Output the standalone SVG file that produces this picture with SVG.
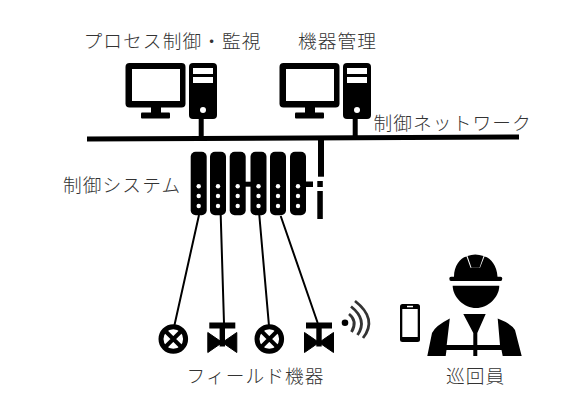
<svg xmlns="http://www.w3.org/2000/svg" width="584" height="400" viewBox="0 0 584 400">
<style>
text{font-family:"Noto Sans CJK JP","Noto Sans",sans-serif;font-size:18.7px;font-weight:300;fill:#333;letter-spacing:1.1px}
.w{fill:#fff}
.l{stroke:#000;fill:none}
</style>
<defs>
<g id="pc">
<rect x="125.5" y="63" width="60" height="44.5" rx="4"/>
<rect class="w" x="132" y="69" width="48" height="32"/>
<rect x="151" y="106" width="10" height="8"/>
<rect x="141" y="112.500" width="29" height="6" rx="1"/>
<rect x="189" y="63" width="28" height="56" rx="4"/>
<rect class="w" x="193" y="68" width="20" height="6"/>
<rect class="w" x="193" y="77" width="20" height="6"/>
<circle class="w" cx="203" cy="110" r="3"/>
<rect x="198.700" y="118" width="5" height="20"/>
</g>
<g id="mod">
<rect x="0" y="0" width="16" height="63.500" rx="5"/>
<circle class="w" cx="8" cy="34.500" r="2.200"/>
<circle class="w" cx="8" cy="44.300" r="2.200"/>
<circle class="w" cx="8" cy="54.300" r="2.200"/>
</g>
<g id="gauge">
<circle class="l" cx="0" cy="0" r="12.300" stroke-width="5" fill="#fff"/>
<path class="l" d="M-9-9L9 9M9-9L-9 9" stroke-width="4"/>
</g>
<g id="valve">
<rect x="-13" y="-20" width="26" height="6"/>
<rect x="-2.700" y="-16" width="5.400" height="20"/>
<path d="M-14.500-10L0 0L14.500-10V10L0 0L-14.500 10Z" stroke="#000" stroke-width="1"/>
</g>
</defs>
<g id="connectors">
<path class="l" d="M87 139L519 137" stroke-width="5"/>
<path class="l" d="M199 215L174.500 325M220.700 215L224 323M259.300 215L269 326M280.700 216L317.700 323" stroke-width="2"/>
<rect x="245" y="181.700" width="6" height="5"/>
<rect x="305.500" y="181.500" width="7.500" height="5.500"/>
<rect x="318" y="138" width="6" height="38.700"/>
<rect x="317.300" y="181" width="5.500" height="6"/>
<rect x="317.300" y="191" width="5.500" height="28"/>
</g>
<g id="pc-process"><use href="#pc"/></g>
<g id="pc-device"><use href="#pc" x="154"/></g>
<g id="control-system">
<use href="#mod" x="190.700" y="151.700"/>
<use href="#mod" x="210" y="151.700"/>
<use href="#mod" x="229.700" y="151.700"/>
<use href="#mod" x="250.500" y="151.700"/>
<use href="#mod" x="270" y="151.700"/>
<use href="#mod" x="290" y="151.700"/>
</g>
<g id="field-gauge-1"><use href="#gauge" x="173.300" y="339"/></g>
<g id="field-valve-1"><use href="#valve" x="222.300" y="342.500"/></g>
<g id="field-gauge-2"><use href="#gauge" x="269.300" y="339"/></g>
<g id="field-valve-2"><use href="#valve" x="319" y="342.500"/></g>
<g id="wireless">
<circle cx="345" cy="322.700" r="3.300"/>
<path class="l" d="M349 314Q358 321 351.500 332M351 306.500Q368 320 357.500 335M355 301Q378 319 363 338" stroke-width="2.800" stroke-opacity=".8"/>
</g>
<g id="phone">
<rect x="400" y="304" width="20" height="38" rx="2.500"/>
<rect class="w" x="402.300" y="309" width="15.400" height="28"/>
<rect class="w" x="407" y="305.800" width="6" height="1.500"/>
</g>
<g id="worker">
<path d="M449.300 278.500Q449.300 276.700 451 276.700H454C454 266 460 258 466.500 256.500L470.500 267.700H480L484.500 256.500C491 258 497 266 497.500 276.700H500.500Q502.300 276.700 502.300 278.500Q502.300 281 500.500 281H451Q449.300 281 449.300 278.500Z"/>
<path d="M467.500 256Q475 253 483.500 256L479.500 267.700H471.500Z"/>
<path d="M452.700 285.700H499.300C499.300 297 488 308 476 308S452.700 297 452.700 285.700Z"/>
<path d="M463.300 314H485.700L477.300 333V356H473.300V333Z"/>
<path d="M427.300 356L432 333Q435 326 449.800 318.500L446.700 345H500L497.700 318.500Q512 324 515 330L521.700 356H502.700L501.500 350H446.500L445.700 356Z"/>
</g>
<g id="labels">
<text x="83.500" y="48">プロセス制御・監視</text>
<text x="298" y="48">機器管理</text>
<text x="373.500" y="130">制御ネットワーク</text>
<text x="63" y="192">制御システム</text>
<text x="186.500" y="383">フィールド機器</text>
<text x="446" y="383">巡回員</text>
</g>
</svg>
